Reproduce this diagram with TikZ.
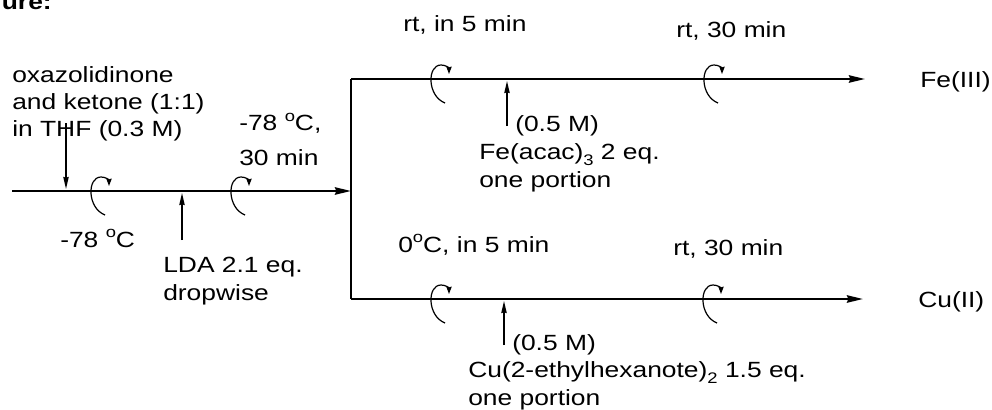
\documentclass[tikz,border=0pt]{standalone}
\usepackage{fontspec}
\setmainfont{Liberation Sans}[FakeStretch=1.2]
\usetikzlibrary{arrows.meta}
\newcommand{\lowidx}[1]{\raisebox{-0.28em}{\fontsize{11.5}{12}\selectfont #1}}
\newcommand{\degmark}{\raisebox{0.42em}{\fontsize{11.5}{12}\selectfont o}}

\begin{document}
\begin{tikzpicture}[x=0.75pt, y=-0.75pt,
    every node/.style={inner sep=0pt, anchor=base west, align=left,
        font=\fontsize{16.5}{20.6}\selectfont},
    mainline/.style={line width=1.6pt, -{Stealth[length=12pt, width=5.5pt, inset=1pt]}},
    addline/.style={line width=1.1pt, -{Stealth[length=9pt, width=4pt, inset=0.5pt]}},
    stirline/.style={line width=0.9pt, -{Stealth[length=5.5pt, width=4pt, inset=0.5pt]}},
    stir/.pic={\draw[stirline] (5,24) .. controls (-13,17) and (-13,-14) .. (1,-14)
        .. controls (6,-14) and (9,-11) .. (9,-5);}]
    \useasboundingbox (0,0) rectangle (992,410);

    \node (n_title) [anchor=base east, font=\fontsize{16.5}{20.6}\selectfont\bfseries] at (52,10) {Procedure:};

    % first step (base = last line)
    \coordinate (c_start) at (12,191);
    \coordinate (c_split) at (351,191);
    \coordinate (c_sm) at (66,123);
    \coordinate (c_sm_in) at (66,189);
    \coordinate (c_lda) at (182,240);
    \coordinate (c_lda_in) at (182,193);
    \node (n_sm) at (12,137) {oxazolidinone\\and ketone (1:1)\\in THF (0.3 M)};
    \node (n_t1) at (60,247) {-78 \degmark C};
    \node (n_lda) at (163,300) {LDA 2.1 eq.\\dropwise};
    \node (n_t2) at (239,165) {-78 \degmark C,\\[5pt]30 min};

    \draw[mainline] (c_start) -- (c_split);
    \draw[addline] (c_sm) -- (c_sm_in);
    \draw[addline] (c_lda) -- (c_lda_in);
    \pic at (100,191) {stir};
    \pic at (240,191) {stir};

    % branches
    \coordinate (c_top) at (351,79);
    \coordinate (c_bot) at (351,299);
    \coordinate (c_fe_end) at (865,79);
    \coordinate (c_cu_end) at (863,299);
    \draw[line width=1.6pt] (c_top) -- (c_bot);

    % Fe branch
    \node (n_rt1) at (403,32) {rt, in 5 min};
    \node (n_rt2) at (676,38) {rt, 30 min};
    \node (n_fe) at (920,88) {Fe(III)};
    \node (n_fe_conc) at (515,132) {(0.5 M)};
    \node (n_fe_reag) at (479,187) {Fe(acac)\lowidx{3} 2 eq.\\one portion};
    \coordinate (c_fe_add) at (507,126);
    \coordinate (c_fe_in) at (507,81);
    \draw[mainline] (c_top) -- (c_fe_end);
    \draw[addline] (c_fe_add) -- (c_fe_in);
    \pic at (440,79) {stir};
    \pic at (713,79) {stir};

    % Cu branch
    \node (n_t3) at (398,252) {0\degmark C, in 5 min};
    \node (n_rt3) at (673,255) {rt, 30 min};
    \node (n_cu) at (918,307) {Cu(II)};
    \node (n_cu_conc) at (512,350) {(0.5 M)};
    \node (n_cu_reag) at (468,405) {Cu(2-ethylhexanote)\lowidx{2} 1.5 eq.\\one portion};
    \coordinate (c_cu_add) at (504,345);
    \coordinate (c_cu_in) at (504,301);
    \draw[mainline] (c_bot) -- (c_cu_end);
    \draw[addline] (c_cu_add) -- (c_cu_in);
    \pic at (440,299) {stir};
    \pic at (712,299) {stir};
\end{tikzpicture}
\end{document}
